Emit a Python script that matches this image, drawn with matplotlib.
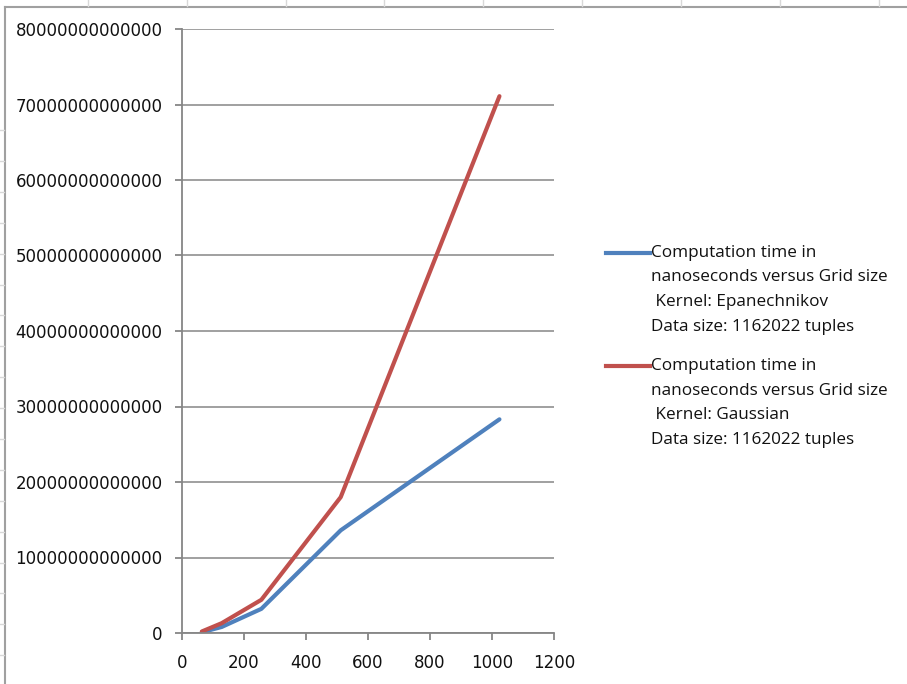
import matplotlib
matplotlib.use("Agg")
import matplotlib.pyplot as plt
from matplotlib.lines import Line2D
from matplotlib.ticker import FuncFormatter

# Data
grid_sizes = [64, 128, 256, 512, 1024]
epanechnikov_ns = [0.01e13, 0.08e13, 0.32e13, 1.36e13, 2.83e13]
gaussian_ns = [0.02e13, 0.13e13, 0.44e13, 1.80e13, 7.11e13]
x_ticks = [0, 200, 400, 600, 800, 1000, 1200]
y_ticks = [0, 1e13, 2e13, 3e13, 4e13, 5e13, 6e13, 7e13, 8e13]
legend_labels = [
    ["Computation time in", "nanoseconds versus Grid size", " Kernel: Epanechnikov", "Data size: 1162022 tuples"],
    ["Computation time in", "nanoseconds versus Grid size", " Kernel: Gaussian", "Data size: 1162022 tuples"],
]

BLUE = "#4F81BD"
RED = "#C0504D"
GRID = "#868686"

W, H = 907, 684
fig = plt.figure(figsize=(W / 100, H / 100), dpi=100)
fig.patch.set_facecolor("white")

def fx(px):
    return px / W

def fy(py):
    return 1 - py / H

ax = fig.add_axes([fx(182), fy(633), fx(554) - fx(182), fy(29) - fy(633)])

ax.plot(grid_sizes, epanechnikov_ns, color=BLUE, lw=3.0, solid_capstyle="round")
ax.plot(grid_sizes, gaussian_ns, color=RED, lw=3.0, solid_capstyle="round")

ax.set_xlim(0, 1200)
ax.set_ylim(0, 8e13)
ax.set_xticks(x_ticks)
ax.set_yticks(y_ticks)
ax.yaxis.set_major_formatter(FuncFormatter(lambda v, p: f"{int(round(v))}"))
ax.xaxis.set_major_formatter(FuncFormatter(lambda v, p: f"{int(round(v))}"))

ax.grid(axis="y", color=GRID, lw=1.1)
ax.set_axisbelow(True)
for s in ["top", "right"]:
    ax.spines[s].set_visible(False)
for s in ["left", "bottom"]:
    ax.spines[s].set_color(GRID)
    ax.spines[s].set_linewidth(1.3)
ax.tick_params(axis="both", direction="out", length=5, width=1.3, color=GRID,
               labelsize=12, labelcolor="#111111")
ax.tick_params(axis="y", pad=9)
ax.tick_params(axis="x", pad=10)

# Legend (manual, Excel style: handle aligned with first line)
line_ys = [[253, 277, 302, 327], [366, 391, 415, 440]]
colors = [BLUE, RED]
for entry, ys, c in zip(legend_labels, line_ys, colors):
    fig.add_artist(Line2D([fx(606), fx(650)], [fy(ys[0]), fy(ys[0])], color=c, lw=3.0,
                          transform=fig.transFigure))
    for txt, yy in zip(entry, ys):
        fig.text(fx(651), fy(yy), txt, fontsize=12.3, family="Open Sans",
                 va="center", ha="left", color="#111111")

# Outer chart border (Excel chart area)
fig.add_artist(Line2D([fx(5), fx(5)], [fy(7), 0], color="#A0A0A0", lw=1.5,
                      transform=fig.transFigure))
fig.add_artist(Line2D([fx(5), 1], [fy(7), fy(7)], color="#A0A0A0", lw=1.5,
                      transform=fig.transFigure))
# spreadsheet cell marks peeking outside chart
for xx in [88, 187, 286, 384, 483, 582, 681, 780, 879]:
    fig.add_artist(Line2D([fx(xx), fx(xx)], [fy(0), fy(6)], color="#D8D8D8", lw=1,
                          transform=fig.transFigure))
yy = 130
while yy < 684:
    fig.add_artist(Line2D([0, fx(4)], [fy(yy), fy(yy)], color="#D8D8D8", lw=1,
                          transform=fig.transFigure))
    yy += 30.9

fig.savefig("out.png", dpi=100, facecolor="white")
